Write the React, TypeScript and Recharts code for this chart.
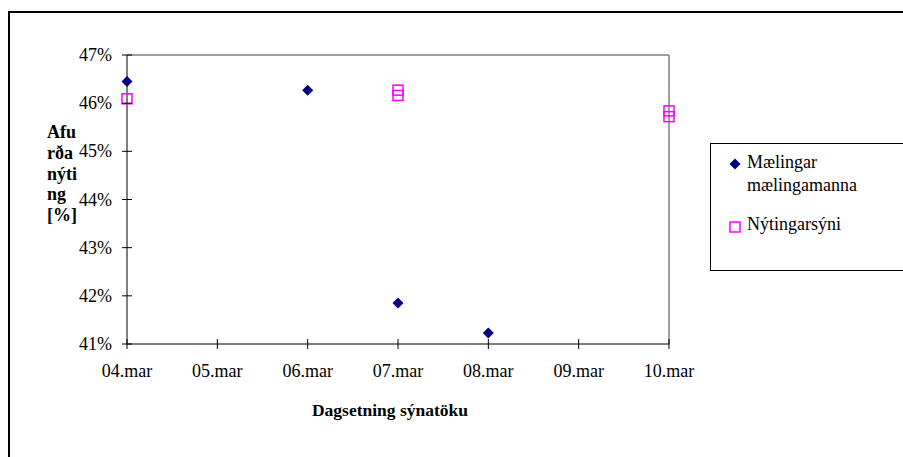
import React from "react";
import {
  ScatterChart, Scatter, XAxis, YAxis, ReferenceLine,
} from "recharts";

// Sampling days on the x axis
const days = ["04.mar", "05.mar", "06.mar", "07.mar", "08.mar", "09.mar", "10.mar"];
const yTicks = [41, 42, 43, 44, 45, 46, 47];

// Mælingar mælingamanna
const measuredDays = ["04.mar", "06.mar", "07.mar", "08.mar"];
const measuredValues = [46.45, 46.27, 41.85, 41.23];

// Nýtingarsýni
const sampleDays = ["04.mar", "07.mar", "07.mar", "10.mar", "10.mar"];
const sampleValues = [46.09, 46.27, 46.16, 45.84, 45.72];

const FONT = '"Liberation Serif", "Times New Roman", serif';
const NAVY = "#000080";
const PINK = "#FF00FF";
const TICK = 5;

const toPoints = (d: string[], v: number[]) =>
  d.map((day, i) => ({ x: days.indexOf(day), y: v[i] }));

const measured = toPoints(measuredDays, measuredValues);
const samples = toPoints(sampleDays, sampleValues);

const Diamond = ({ cx, cy }: any) => (
  <polygon
    points={`${cx},${cy - 5.5} ${cx + 5.5},${cy} ${cx},${cy + 5.5} ${cx - 5.5},${cy}`}
    fill={NAVY}
  />
);

const Square = ({ cx, cy }: any) => (
  <rect x={cx - 5} y={cy - 5} width={10} height={10} fill="none" stroke={PINK} strokeWidth={1.5} />
);

// Excel-style ticks that cross the axis line
const YTick = ({ x, y, payload }: any) => {
  const ax = x + TICK + 10;
  return (
    <g>
      <line x1={ax - TICK} x2={ax + TICK} y1={y} y2={y} stroke="#000" />
      <text x={x} y={y} dy={6} textAnchor="end" fontSize={18} fontFamily={FONT} fill="#000">
        {payload.value}%
      </text>
    </g>
  );
};

const XTick = ({ x, y, payload }: any) => {
  const ay = y - TICK - 10;
  return (
    <g>
      <line x1={x} x2={x} y1={ay - TICK} y2={ay + TICK} stroke="#000" />
      <text x={x} y={y} dy={18} textAnchor="middle" fontSize={18} fontFamily={FONT} fill="#000">
        {days[payload.value]}
      </text>
    </g>
  );
};

const YLabel = ({ viewBox }: any) => {
  const rows = ["Afu", "rða", "nýti", "ng", "[%]"];
  return (
    <text x={viewBox.x} y={viewBox.y + 83} fontSize={18} fontWeight="bold" fontFamily={FONT} fill="#000">
      {rows.map((r, i) => (
        <tspan key={r} x={viewBox.x} dy={i === 0 ? 0 : 20.8}>{r}</tspan>
      ))}
    </text>
  );
};

const XLabel = ({ viewBox }: any) => (
  <text
    x={viewBox.x + viewBox.width / 2 - 8}
    y={viewBox.y + 72}
    textAnchor="middle"
    fontSize={17.5}
    fontWeight="bold"
    fontFamily={FONT}
    fill="#000"
  >
    Dagsetning sýnatöku
  </text>
);

const LegendBox = () => (
  <div
    style={{
      position: "absolute", left: 710, top: 143, width: 200, height: 128,
      border: "1px solid #000", boxSizing: "border-box",
      fontFamily: FONT, fontSize: 18, color: "#000",
    }}
  >
    <svg width={12} height={12} style={{ position: "absolute", left: 18, top: 14 }}>
      <polygon points="6,0.5 11.5,6 6,11.5 0.5,6" fill={NAVY} />
    </svg>
    <div style={{ position: "absolute", left: 36, top: 7, lineHeight: "23px" }}>
      Mælingar<br />mælingamanna
    </div>
    <svg width={12} height={12} style={{ position: "absolute", left: 18, top: 77 }}>
      <rect x={1} y={1} width={10} height={10} fill="none" stroke={PINK} strokeWidth={1.5} />
    </svg>
    <div style={{ position: "absolute", left: 36, top: 69, lineHeight: "23px" }}>
      Nýtingarsýni
    </div>
  </div>
);

export default function App() {
  return (
    <div style={{ position: "relative", width: 903, height: 457, overflow: "hidden", background: "#fff" }}>
      <style>{"body{margin:0}"}</style>
      <div
        style={{
          position: "absolute", left: 8, top: 11, width: 920, height: 480,
          border: "2px solid #000", boxSizing: "border-box",
        }}
      />
      <ScatterChart
        width={903}
        height={457}
        margin={{ top: 55, right: 234, bottom: 83, left: 47 }}
        style={{ position: "absolute", left: 0, top: 0 }}
      >
        <XAxis
          type="number"
          dataKey="x"
          domain={[0, 6]}
          ticks={[0, 1, 2, 3, 4, 5, 6]}
          height={30}
          tickSize={TICK}
          tickMargin={10}
          tickLine={false}
          tick={<XTick />}
          axisLine={{ stroke: "#000" }}
          label={<XLabel />}
        />
        <YAxis
          type="number"
          dataKey="y"
          domain={[41, 47]}
          ticks={yTicks}
          width={80}
          tickSize={TICK}
          tickMargin={10}
          tickLine={false}
          tick={<YTick />}
          axisLine={{ stroke: "#000" }}
          label={<YLabel />}
        />
        <ReferenceLine y={47} stroke="#808080" strokeWidth={1.5} />
        <ReferenceLine x={6} stroke="#808080" strokeWidth={1.5} />
        <Scatter name="Mælingar mælingamanna" data={measured} shape={<Diamond />} isAnimationActive={false} />
        <Scatter name="Nýtingarsýni" data={samples} shape={<Square />} isAnimationActive={false} />
      </ScatterChart>
      <LegendBox />
    </div>
  );
}
